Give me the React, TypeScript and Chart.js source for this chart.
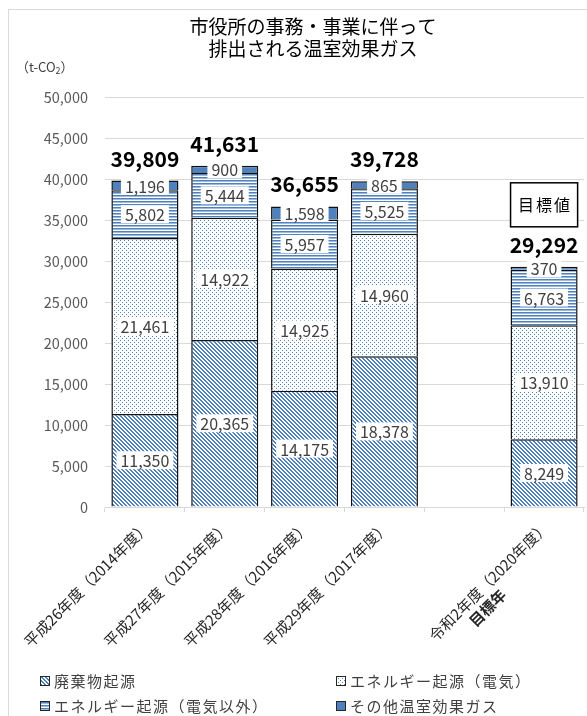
import React, { useEffect, useRef } from 'react';
import { Chart, registerables } from 'chart.js';

Chart.register(...registerables);

// ---- data ----
const categories = [
  '平成26年度（2014年度）',
  '平成27年度（2015年度）',
  '平成28年度（2016年度）',
  '平成29年度（2017年度）',
  '',
  '令和2年度（2020年度）',
];
const targetSubLabel = '目標年';
const seriesLabels = ['廃棄物起源', 'エネルギー起源（電気）', 'エネルギー起源（電気以外）', 'その他温室効果ガス'];
const wasteData = [11350, 20365, 14175, 18378, null, 8249];
const elecData = [21461, 14922, 14925, 14960, null, 13910];
const nonElecData = [5802, 5444, 5957, 5525, null, 6763];
const otherData = [1196, 900, 1598, 865, null, 370];
const totals = [39809, 41631, 36655, 39728, null, 29292];
const yMin = 0;
const yMax = 50000;
const yStep = 5000;
const titleLines = ['市役所の事務・事業に伴って', '排出される温室効果ガス'];
const yUnitMain = '（t-CO';
const yUnitSub = '2';
const yUnitEnd = '）';
const targetBoxText = '目標値';

const BLUE = '#4F81BD';
const FONT = "'Noto Sans CJK JP', 'Noto Sans', sans-serif";
const fmt = (v: number) => Number(v).toLocaleString('en-US');

function makePattern(kind: string): CanvasPattern | string {
  const c = document.createElement('canvas');
  const ctx = c.getContext('2d');
  if (!ctx) return BLUE;
  if (kind === 'diag') {
    c.width = 4; c.height = 4;
    ctx.fillStyle = '#fff'; ctx.fillRect(0, 0, 4, 4);
    ctx.fillStyle = BLUE;
    for (let y = 0; y < 4; y++) for (let x = 0; x < 4; x++) {
      if ((((x - y) % 4) + 4) % 4 < 2) ctx.fillRect(x, y, 1, 1);
    }
  } else if (kind === 'dots') {
    c.width = 4; c.height = 4;
    ctx.fillStyle = '#fff'; ctx.fillRect(0, 0, 4, 4);
    ctx.fillStyle = BLUE;
    ctx.fillRect(0, 0, 1, 1);
    ctx.fillRect(2, 2, 1, 1);
  } else if (kind === 'hlines') {
    c.width = 4; c.height = 3;
    ctx.fillStyle = '#fff'; ctx.fillRect(0, 0, 4, 3);
    ctx.fillStyle = BLUE; ctx.fillRect(0, 0, 4, 1);
    ctx.fillStyle = 'rgba(79,129,189,0.55)'; ctx.fillRect(0, 1, 4, 1);
  } else {
    return BLUE;
  }
  return ctx.createPattern(c, 'repeat') || BLUE;
}

export default function App() {
  const ref = useRef<HTMLCanvasElement | null>(null);

  useEffect(() => {
    const canvas = ref.current;
    if (!canvas) return;
    const fills = [makePattern('diag'), makePattern('dots'), makePattern('hlines'), BLUE];
    const seriesData = [wasteData, elecData, nonElecData, otherData];

    const decor = {
      id: 'decor',
      beforeDraw(chart: any) {
        const ctx = chart.ctx;
        ctx.save();
        ctx.fillStyle = '#fff';
        ctx.fillRect(0, 0, chart.width, chart.height);
        ctx.strokeStyle = '#d9d9d9';
        ctx.lineWidth = 1;
        ctx.strokeRect(8.5, 9.5, chart.width + 20, chart.height + 20);
        ctx.restore();
      },
      afterDatasetsDraw(chart: any) {
        const ctx = chart.ctx;
        const yScale = chart.scales.y;
        const xScale = chart.scales.x;
        ctx.save();
        // segment labels
        ctx.font = `16px ${FONT}`;
        ctx.textAlign = 'center';
        ctx.textBaseline = 'middle';
        chart.data.datasets.forEach((ds: any, di: number) => {
          const meta = chart.getDatasetMeta(di);
          meta.data.forEach((el: any, i: number) => {
            const v = ds.data[i];
            if (v == null) return;
            const txt = fmt(v);
            const tw = ctx.measureText(txt).width;
            const cy = (el.y + el.base) / 2;
            ctx.fillStyle = '#fff';
            ctx.fillRect(el.x - tw / 2 - 4, cy - 9, tw + 8, 18);
            ctx.fillStyle = '#404040';
            ctx.fillText(txt, el.x, cy + 1);
          });
        });
        // totals
        ctx.font = `bold 21px ${FONT}`;
        ctx.fillStyle = '#000';
        ctx.textBaseline = 'alphabetic';
        let lastIdx = -1;
        totals.forEach((t, i) => {
          if (t == null) return;
          lastIdx = i;
          const x = xScale.getPixelForValue(i);
          const top = yScale.getPixelForValue(t);
          ctx.fillText(fmt(t), x, top - 14);
        });
        // target box above last bar
        if (lastIdx >= 0) {
          const meta = chart.getDatasetMeta(0);
          const el: any = meta.data[lastIdx];
          const w = el.width;
          const t = totals[lastIdx] as number;
          const bottom = yScale.getPixelForValue(t) - 40;
          const h = 44;
          ctx.fillStyle = '#fff';
          ctx.fillRect(el.x - w / 2, bottom - h, w, h);
          ctx.strokeStyle = '#000';
          ctx.lineWidth = 1.5;
          ctx.strokeRect(el.x - w / 2, bottom - h, w, h);
          ctx.font = `16px ${FONT}`;
          (ctx as any).letterSpacing = '2px';
          ctx.textBaseline = 'middle';
          ctx.fillStyle = '#000';
          ctx.fillText(targetBoxText, el.x + 1, bottom - h / 2);
          (ctx as any).letterSpacing = '0px';
        }
        ctx.restore();
      },
      afterDraw(chart: any) {
        const ctx = chart.ctx;
        const xScale = chart.scales.x;
        const area = chart.chartArea;
        ctx.save();
        // x labels (rotated)
        categories.forEach((cat, i) => {
          if (!cat) return;
          const x = xScale.getPixelForValue(i);
          ctx.save();
          ctx.translate(x + 2, area.bottom + 17);
          ctx.rotate(-Math.PI / 4);
          ctx.font = `15px ${FONT}`;
          ctx.fillStyle = '#262626';
          ctx.textAlign = 'right';
          ctx.textBaseline = 'middle';
          ctx.fillText(cat, 0, 0);
          if (i === categories.length - 1) {
            const w1 = ctx.measureText(cat).width;
            ctx.font = `bold 15px ${FONT}`;
            ctx.textAlign = 'center';
            ctx.fillText(targetSubLabel, -w1 / 2 - 20, 18);
          }
          ctx.restore();
        });
        // title
        ctx.font = `19px ${FONT}`;
        ctx.fillStyle = '#000';
        ctx.textAlign = 'center';
        ctx.textBaseline = 'middle';
        titleLines.forEach((ln, k) => ctx.fillText(ln, 313, 27 + k * 22));
        // y unit
        ctx.textAlign = 'left';
        ctx.fillStyle = '#404040';
        ctx.font = `13px ${FONT}`;
        let ux = 16;
        const uy = 67;
        ctx.fillText(yUnitMain, ux, uy);
        ux += ctx.measureText(yUnitMain).width;
        ctx.font = `9px ${FONT}`;
        ctx.fillText(yUnitSub, ux, uy + 4);
        ux += ctx.measureText(yUnitSub).width;
        ctx.font = `13px ${FONT}`;
        ctx.fillText(yUnitEnd, ux, uy);
        // legend
        const colX = [40, 336];
        const rowY = [681, 706];
        seriesLabels.forEach((lab, i) => {
          const cx = colX[i % 2];
          const cy = rowY[Math.floor(i / 2)];
          ctx.fillStyle = fills[i] as any;
          ctx.fillRect(cx, cy - 5, 10, 10);
          ctx.strokeStyle = '#262626';
          ctx.lineWidth = 1;
          ctx.strokeRect(cx + 0.5, cy - 4.5, 9, 9);
          ctx.fillStyle = '#404040';
          ctx.font = `15px ${FONT}`;
          (ctx as any).letterSpacing = '1.5px';
          ctx.textAlign = 'left';
          ctx.textBaseline = 'middle';
          ctx.fillText(lab, cx + 14, cy);
          (ctx as any).letterSpacing = '0px';
        });
        ctx.restore();
      },
    };

    const chart = new Chart(canvas, {
      type: 'bar',
      data: {
        labels: categories,
        datasets: seriesLabels.map((lab, i) => ({
          label: lab,
          data: seriesData[i] as any,
          backgroundColor: fills[i] as any,
          borderColor: '#111',
          borderWidth: 1.5,
          categoryPercentage: 1,
          barPercentage: 0.84,
        })),
      },
      options: {
        animation: false,
        responsive: false,
        devicePixelRatio: 1,
        layout: { padding: { top: 97, left: 0, right: 3, bottom: 0 } },
        plugins: {
          legend: { display: false },
          title: { display: false },
          tooltip: { enabled: false },
        },
        scales: {
          x: {
            stacked: true,
            grid: { drawOnChartArea: false, drawTicks: true, tickLength: 5, color: '#d9d9d9', offset: true },
            border: { color: '#d9d9d9' },
            ticks: { display: false },
            afterFit: (s: any) => { s.height = 209; },
          },
          y: {
            stacked: true,
            min: yMin,
            max: yMax,
            ticks: {
              stepSize: yStep,
              padding: 17,
              color: '#595959',
              font: { size: 14.5, family: FONT },
              callback: (v: any) => fmt(v),
            },
            grid: { color: '#d9d9d9', drawTicks: false },
            border: { display: false },
            afterFit: (s: any) => { s.width = 105; },
          },
        },
      },
      plugins: [decor],
    } as any);

    return () => chart.destroy();
  }, []);

  return (
    <div style={{ position: 'fixed', left: 0, top: 0, width: 587, height: 716, background: '#fff' }}>
      <canvas ref={ref} width={587} height={716} style={{ display: 'block', width: 587, height: 716 }} />
    </div>
  );
}
